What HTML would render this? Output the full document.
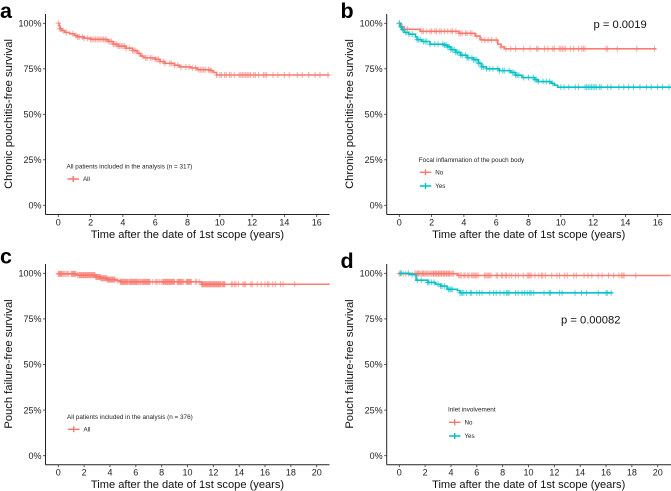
<!DOCTYPE html>
<html lang="en">
<head>
<meta charset="utf-8">
<title>Survival curves</title>
<style>
html,body{margin:0;padding:0;background:#fff;}
svg{display:block;font-family:"Liberation Sans",Arial,sans-serif;}
</style>
</head>
<body>
<svg id="chart" width="671" height="491" viewBox="0 0 671 491" xmlns="http://www.w3.org/2000/svg"></svg>
<script>
const yTickValues = [0, 25, 50, 75, 100];
const xTicksAB = [0, 2, 4, 6, 8, 10, 12, 14, 16];
const xTicksCD = [0, 2, 4, 6, 8, 10, 12, 14, 16, 18, 20];

const aTimes = [0,0.05,0.1,0.2,0.4,0.7,1,1.2,1.6,2,2.9,3.1,3.4,3.7,4.2,4.6,4.9,5.1,5.3,6,6.3,6.6,7.2,7.5,8.2,8.6,9.4,9.6,9.8];
const aSurvival = [100,98.5,97,96,95,94.2,93.3,92.5,91.8,91.2,91,90,88.5,87.5,86.3,85,83.5,82,81,80.2,79,78,77,76,75.5,74.5,74,73,71.6];
const aCensor = [0,0.1,0.15,0.3,0.5,0.9,1.1,1.2,1.3,1.5,1.6,1.8,2,2.1,2.2,2.3,2.4,2.5,2.6,2.7,2.8,2.9,3,3.1,3.2,3.3,3.4,3.5,3.6,3.7,3.8,3.9,4,4.1,4.2,4.4,4.6,4.7,4.8,5,5.2,5.4,5.5,5.7,5.8,6,6.1,6.2,6.3,6.5,6.6,6.9,7,7.2,7.4,7.6,7.9,8.1,8.3,8.5,8.7,8.8,8.9,9,9.1,9.3,9.4,9.5,9.8,10,10.1,10.3,10.4,10.6,10.7,10.9,11.2,11.3,11.4,11.5,11.6,11.7,11.8,11.9,12.1,12.2,12.4,12.7,12.8,12.9,13.3,13.6,14,14.3,14.8,15.1,15.5,15.9,16.2,16.7];

const bNoTimes = [0,0.1,0.3,1.3,3.7,4.7,5,5.2,6.1,6.3,6.5];
const bNoSurvival = [100,98,96.7,95.6,94.5,93,91,90.8,88.5,87,86];
const bNoCensor = [0,0.2,0.5,1.4,1.5,1.7,1.9,2,2.2,2.3,2.5,2.6,2.8,3,3.2,3.3,3.5,3.7,3.8,3.9,4.1,4.2,4.4,4.5,4.8,5.1,5.3,5.5,5.7,6,6.3,6.6,6.9,7.2,7.7,8.1,8.5,8.6,9,9.2,9.5,9.6,9.9,10,10.1,10.2,10.3,10.6,10.8,11.1,11.3,11.4,11.5,12.8,12.9,13.5,14.7,15.8];
const bYesTimes = [0,0.05,0.15,0.3,0.6,1,1.1,1.4,1.9,2.8,3,3.2,3.5,3.8,4.2,4.6,4.9,5.1,5.4,6.2,6.9,7.2,7.6,8.4,8.6,9.4,9.6,9.8];
const bYesSurvival = [100,98,96.5,95,94,92.5,91,90,88.5,88,87,85.5,84,82.5,81,80,78,76,75,74,73,71.5,70.2,69,68,67,66,64.9];
const bYesCensor = [0,0.1,0.2,0.4,0.6,0.8,1.1,1.2,1.3,1.5,1.6,1.7,1.9,2.2,2.4,2.7,2.8,2.9,3,3.1,3.2,3.3,3.4,3.5,3.6,3.7,3.8,3.9,4.1,4.2,4.3,4.5,4.6,4.7,4.8,4.9,5,5.1,5.2,5.4,5.6,5.8,6.1,6.2,6.4,6.5,6.8,7,7.1,7.2,7.3,7.4,7.7,8,8.3,8.4,8.5,8.6,8.9,9.1,9.3,9.5,10,10.2,10.5,10.9,11.1,11.5,11.6,11.7,11.8,11.9,12,12.1,12.2,12.4,12.5,12.9,13.1,13.6,13.9,14.2,14.5,14.9,15.3,15.6,16,16.3,16.7];

const cTimes = [0,1.4,2.9,3.3,3.8,4.5,4.8,11,11.1];
const cSurvival = [99.7,99,98,97.3,96.5,96,95.3,95.2,94];
const cCensor = [0,0.05,0.1,0.15,0.2,0.25,0.3,0.4,0.5,0.6,0.7,0.8,1,1.05,1.1,1.15,1.2,1.25,1.3,1.35,1.5,1.6,1.65,1.7,1.75,1.8,1.85,1.9,1.95,2,2.05,2.1,2.15,2.2,2.25,2.3,2.35,2.4,2.45,2.5,2.55,2.6,2.65,2.7,2.75,2.8,2.85,2.9,2.95,3,3.05,3.1,3.15,3.2,3.25,3.3,3.35,3.4,3.45,3.5,3.55,3.6,3.65,3.7,3.75,3.8,3.85,3.9,3.95,4,4.05,4.1,4.15,4.2,4.25,4.3,4.35,4.4,4.6,4.8,4.85,4.9,4.95,5,5.05,5.1,5.15,5.2,5.25,5.3,5.35,5.4,5.5,5.55,5.6,5.65,5.7,5.75,5.8,5.85,5.9,5.95,6,6.05,6.1,6.15,6.2,6.3,6.35,6.4,6.5,6.55,6.6,6.65,6.7,6.75,6.8,6.85,6.9,6.95,7,7.05,7.1,7.3,7.5,7.6,7.7,7.85,8,8.1,8.15,8.2,8.25,8.3,8.35,8.4,8.45,8.5,8.55,8.6,8.65,8.7,8.75,8.8,8.85,8.9,8.95,9,9.2,9.25,9.3,9.35,9.4,9.45,9.5,9.55,9.6,9.7,9.9,9.95,10,10.05,10.1,10.15,10.2,10.25,10.3,10.6,10.7,10.9,11.1,11.15,11.2,11.25,11.3,11.35,11.4,11.45,11.5,11.55,11.6,11.65,11.7,11.75,11.8,11.85,11.9,11.95,12,12.05,12.1,12.15,12.2,12.25,12.3,12.35,12.4,12.45,12.5,12.55,12.6,12.7,12.75,12.8,12.85,12.9,13.4,13.5,13.65,13.75,13.95,14.3,14.4,14.5,14.9,15,15.4,15.7,16,16.2,16.3,16.6,16.8,17.2,17.4,18.3];

const dNoTimes = [0,4.5];
const dNoSurvival = [99.8,98.8];
const dNoCensor = [0,0.3,0.5,1.2,1.3,1.4,1.45,1.5,1.6,1.7,1.8,1.85,1.9,2,2.1,2.2,2.3,2.4,2.5,2.6,2.65,2.7,2.8,2.85,2.9,3,3.05,3.1,3.2,3.25,3.3,3.4,3.45,3.5,3.6,3.65,3.7,3.8,3.85,3.9,4,4.1,4.2,4.6,4.7,4.8,5,5.1,5.3,5.4,5.6,5.7,5.8,5.9,6,6.1,6.6,6.7,6.8,6.9,7,7.1,7.5,7.6,7.9,8,8.2,8.3,8.5,8.7,9,9.2,9.6,9.9,10,10.1,10.2,10.5,10.8,11,11.1,11.3,11.8,12.2,12.4,12.8,13,13.5,13.7,14.3,14.6,14.9,15.4,15.7,16.2,16.6,17,17.2,17.3,17.4,18.3];
const dYesTimes = [0,0.8,1.3,2.2,2.8,3.2,3.7,4.5,4.7];
const dYesSurvival = [100,99.3,96.2,95,94,93,91.2,90.5,89.3];
const dYesCensor = [0.1,0.15,0.7,1,1.4,1.7,2.2,2.3,2.5,2.7,3,3.2,3.3,3.5,3.8,3.9,4,4.1,4.7,4.8,4.9,5,5.2,5.5,5.6,6,6.2,6.4,7,7.3,7.5,7.8,8.1,8.3,8.4,8.5,9,9.2,9.5,9.7,9.9,10.1,10.2,10.4,11.2,11.6,11.7,12.4,12.6,13.6,14.1,14.5,15.4,16,16.1,16.4];

const RED = '#f8766d';
const TEAL = '#00bfc4';
const svg = document.getElementById('chart');
const NS = 'http://www.w3.org/2000/svg';

function make(parent, tag, attrs, text) {
  const el = document.createElementNS(NS, tag);
  for (const k in attrs) el.setAttribute(k, attrs[k]);
  if (text !== undefined) el.textContent = text;
  parent.appendChild(el);
  return el;
}

function drawAxes(g, p) {
  const xs = t => p.x0 + t * p.pxPerYear;
  const ys = v => p.y0 - v * p.pxPerPct;
  const yAxis = make(g, 'line', {x1:p.axisX, x2:p.axisX, y1:p.top, y2:p.axisY, stroke:'#222', 'stroke-width':1});
  
  
  const xAxis = make(g, 'line', {x1:p.axisX, x2:p.right, y1:p.axisY, y2:p.axisY, stroke:'#222', 'stroke-width':1});
  
  
  yTickValues.forEach(v => {
    const tick = make(g, 'line', {x1:p.axisX-2.5, x2:p.axisX, y1:ys(v), y2:ys(v), stroke:'#333', 'stroke-width':0.8});
    
    
    const lab = make(g, 'text', {x:p.axisX-4, y:ys(v)+3.2, 'text-anchor':'end', 'font-size':9, fill:'#222'}, v + '%');
    
    
  });
  p.xTicks.forEach(t => {
    const tick = make(g, 'line', {x1:xs(t), x2:xs(t), y1:p.axisY, y2:p.axisY+2.5, stroke:'#333', 'stroke-width':0.8});
    
    
    const lab = make(g, 'text', {x:xs(t), y:p.axisY+11, 'text-anchor':'middle', 'font-size':9, fill:'#222'}, t);
    
    
  });
  const xTitle = make(g, 'text', {x:p.axisX+142, y:p.axisY+23.5, 'text-anchor':'middle', 'font-size':11.1, fill:'#111'}, 'Time after the date of 1st scope (years)');
  
  
  const tx = p.axisX - 33.5;
  const yTitle = make(g, 'text', {x:tx, y:p.yTitleY, 'text-anchor':'middle', 'font-size':11.2, fill:'#111', transform:'rotate(-90 '+tx+' '+p.yTitleY+')'}, p.yTitle);
  
  
  const letter = make(g, 'text', {x:p.letterX, y:p.letterY, 'font-size':21.5, 'font-weight':'bold', fill:'#000'}, p.letter);
  
  
}

function survivalAt(times, surv, t) {
  let s = surv[0];
  for (let i = 0; i < times.length; i++) { if (times[i] <= t) s = surv[i]; }
  return s;
}

function drawSeries(g, p, times, surv, censor, endT, color, name) {
  const xs = t => p.x0 + t * p.pxPerYear;
  const ys = v => p.y0 - v * p.pxPerPct;
  let d = 'M' + xs(times[0]) + ' ' + ys(surv[0]);
  for (let i = 1; i < times.length; i++) {
    d += 'H' + xs(times[i]) + 'V' + ys(surv[i]);
  }
  d += 'H' + xs(endT);
  const path = make(g, 'path', {d:d, fill:'none', stroke:color, 'stroke-width':1.6, opacity:0.95});
  
  
  censor.forEach(t => {
    const cx = xs(t), cy = ys(survivalAt(times, surv, t));
    const m = make(g, 'path', {d:'M'+(cx-2.8)+' '+cy+'H'+(cx+2.8)+'M'+cx+' '+(cy-3)+'V'+(cy+3), stroke:color, 'stroke-width':1.1, opacity:0.6, fill:'none'});
    
    
  });
}

function drawLegend(g, title, tx, ty, rows) {
  const t = make(g, 'text', {x:tx, y:ty, 'font-size':6.35, fill:'#222'}, title);
  
  
  rows.forEach(r => {
    const k = make(g, 'path', {d:'M'+(tx+1)+' '+r.y+'H'+(tx+12.5)+'M'+(tx+6.7)+' '+(r.y-3)+'V'+(r.y+3), stroke:r.color, 'stroke-width':1.4, fill:'none'});
    
    
    const l = make(g, 'text', {x:tx+16.5, y:r.y+2.1, 'font-size':6.2, fill:'#222'}, r.label);
    
    
  });
}

function pValue(g, text, x, y) {
  const t = make(g, 'text', {x:x, y:y, 'font-size':11.2, fill:'#111'}, text);
  
  
}

const topGeom = {top:14, axisY:214.5, y0:205.3, pxPerPct:1.82};
const botGeom = {top:264, axisY:464.7, y0:455.7, pxPerPct:1.824};

/* panel a */
const gA = make(svg, 'g', {});


const pA = Object.assign({axisX:45.5, right:329.5, x0:58.3, pxPerYear:16.15, xTicks:xTicksAB, yTitle:'Chronic pouchitis-free survival', yTitleY:114, letter:'a', letterX:0, letterY:18}, topGeom);
drawAxes(gA, pA);
drawSeries(gA, pA, aTimes, aSurvival, aCensor, 16.78, RED, 'all');
drawLegend(gA, 'All patients included in the analysis (n = 317)', 66.5, 168.3, [{y:179, color:RED, label:'All'}]);

/* panel b */
const gB = make(svg, 'g', {});


const pB = Object.assign({axisX:386.7, right:671, x0:399.3, pxPerYear:16.15, xTicks:xTicksAB, yTitle:'Chronic pouchitis-free survival', yTitleY:114, letter:'b', letterX:340.5, letterY:18}, topGeom);
drawAxes(gB, pB);
drawSeries(gB, pB, bNoTimes, bNoSurvival, bNoCensor, 15.9, RED, 'no');
drawSeries(gB, pB, bYesTimes, bYesSurvival, bYesCensor, 16.9, TEAL, 'yes');
drawLegend(gB, 'Focal inflammation of the pouch body', 418.8, 161.8, [{y:172.3, color:RED, label:'No'}, {y:186, color:TEAL, label:'Yes'}]);
pValue(gB, 'p = 0.0019', 593.5, 28);

/* panel c */
const gC = make(svg, 'g', {});


const pC = Object.assign({axisX:45.5, right:329.5, x0:58.3, pxPerYear:12.92, xTicks:xTicksCD, yTitle:'Pouch failure-free survival', yTitleY:364, letter:'c', letterX:0, letterY:263.5}, botGeom);
drawAxes(gC, pC);
drawSeries(gC, pC, cTimes, cSurvival, cCensor, 21, RED, 'all');
drawLegend(gC, 'All patients included in the analysis (n = 376)', 67, 418.8, [{y:429.3, color:RED, label:'All'}]);

/* panel d */
const gD = make(svg, 'g', {});


const pD = Object.assign({axisX:386.7, right:671, x0:399.3, pxPerYear:12.92, xTicks:xTicksCD, yTitle:'Pouch failure-free survival', yTitleY:364, letter:'d', letterX:340.5, letterY:268}, botGeom);
drawAxes(gD, pD);
drawSeries(gD, pD, dNoTimes, dNoSurvival, dNoCensor, 21, RED, 'no');
drawSeries(gD, pD, dYesTimes, dYesSurvival, dYesCensor, 16.5, TEAL, 'yes');
drawLegend(gD, 'Inlet involvement', 448, 411.5, [{y:422.3, color:RED, label:'No'}, {y:436, color:TEAL, label:'Yes'}]);
pValue(gD, 'p = 0.00082', 561, 323.5);
</script>
</body>
</html>
